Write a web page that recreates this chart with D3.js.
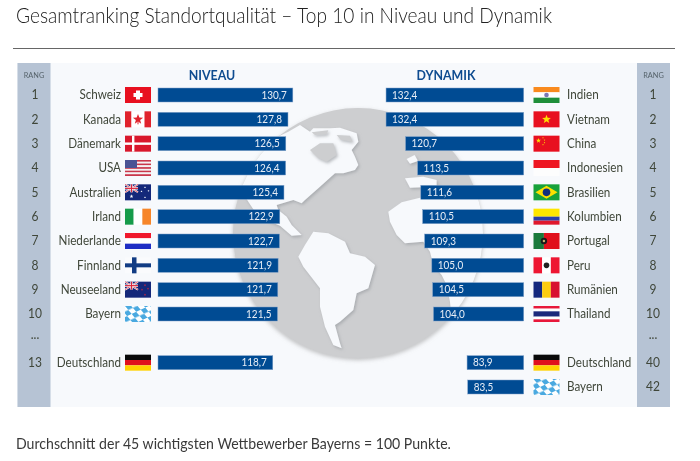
<!DOCTYPE html>
<html>
<head>
<meta charset="utf-8">
<script src="https://cdn.jsdelivr.net/npm/d3@7"></script>
<style>
  html, body { margin: 0; background: #fff; }
  svg { display: block; filter: blur(0.3px); }
  text { font-family: Lato, "Open Sans", sans-serif; }
</style>
</head>
<body>
<script>
var levelCountries = ["Schweiz", "Kanada", "Dänemark", "USA", "Australien", "Irland", "Niederlande", "Finnland", "Neuseeland", "Bayern", "Deutschland"];
var levelValues = [130.7, 127.8, 126.5, 126.4, 125.4, 122.9, 122.7, 121.9, 121.7, 121.5, 118.7];
var levelRows = [0, 1, 2, 3, 4, 5, 6, 7, 8, 9, 11];
var levelRanks = ["1", "2", "3", "4", "5", "6", "7", "8", "9", "10", "...", "13"];

var dynamicCountries = ["Indien", "Vietnam", "China", "Indonesien", "Brasilien", "Kolumbien", "Portugal", "Peru", "Rumänien", "Thailand", "Deutschland", "Bayern"];
var dynamicValues = [132.4, 132.4, 120.7, 113.5, 111.6, 110.5, 109.3, 105.0, 104.5, 104.0, 83.9, 83.5];
var dynamicRows = [0, 1, 2, 3, 4, 5, 6, 7, 8, 9, 11, 12];
var dynamicRanks = ["1", "2", "3", "4", "5", "6", "7", "8", "9", "10", "...", "40", "42"];

var titleText = "Gesamtranking Standortqualität – Top 10 in Niveau und Dynamik";
var footerText = "Durchschnitt der 45 wichtigsten Wettbewerber Bayerns = 100 Punkte.";

var svg = d3.select("body").append("svg").attr("width", 700).attr("height", 461);
var defs = svg.append("defs");

var barColor = "#004b93", textColor = "#3f4639", panelColor = "#f7f9fc", rangColor = "#b6c3d4";

var y = d3.scalePoint().domain(d3.range(13)).range([95, 387]);
// both bar scales start at 50, not at zero
var levelX = d3.scaleLinear().domain([50, 135]).range([158, 300]);
var dynamicX = d3.scaleLinear().domain([50, 135]).range([523.7, 381.7]);
var de = d3.formatLocale({ decimal: ",", thousands: ".", grouping: [3], currency: ["", "€"] }).format(".1f");

// title, rule, footer
var title = svg.append("text").attr("x", 16).attr("y", 23).attr("font-size", 21).attr("font-weight", 300).attr("fill", "#222").text(titleText);
svg.append("line").attr("x1", 13).attr("x2", 675).attr("y1", 48.5).attr("y2", 48.5).attr("stroke", "#666").attr("stroke-width", 1);
svg.append("text").attr("x", 16).attr("y", 449).attr("font-size", 15).attr("fill", "#3a3a3a").text(footerText);

// panel
svg.append("rect").attr("x", 17).attr("y", 63).attr("width", 653).attr("height", 344).attr("fill", panelColor);
svg.selectAll("rect.rang").data([17.5, 637]).join("rect").attr("class", "rang")
  .attr("x", function(d){ return d; }).attr("y", 63).attr("width", 33).attr("height", 344).attr("fill", rangColor);

// globe, traced by hand (coordinates are 3x, offset to 220,95)
var shadow = defs.append("filter").attr("id", "soft").attr("x", "-20%").attr("y", "-20%").attr("width", "140%").attr("height", "140%");
shadow.append("feDropShadow").attr("dx", 4).attr("dy", 5).attr("stdDeviation", 5).attr("flood-color", "#9a9ea3").attr("flood-opacity", 0.7);
var discShadow = defs.append("filter").attr("id", "discsoft").attr("x", "-10%").attr("y", "-10%").attr("width", "120%").attr("height", "120%");
discShadow.append("feDropShadow").attr("dx", 0).attr("dy", 6).attr("stdDeviation", 6).attr("flood-color", "#999").attr("flood-opacity", 0.6);
defs.append("clipPath").attr("id", "disc").append("circle").attr("cx", 414).attr("cy", 414).attr("r", 375);

var land = [
  [[205,110],[240,90],[270,110],[280,100],[330,100],[360,98],[410,115],[415,140],[395,165],[405,185],[415,210],[405,225],[370,235],[345,235],[300,275],[255,315],[245,325],[220,315],[170,330],[175,345],[200,365],[215,390],[245,420],[215,422],[180,392],[115,365],[85,320],[60,280],[100,160]],
  [[280,410],[325,415],[375,440],[390,475],[435,485],[465,510],[445,580],[410,595],[400,645],[360,680],[345,690],[360,745],[365,760],[340,750],[315,695],[300,635],[300,580],[250,515],[235,485],[255,450]],
  [[505,350],[545,322],[600,308],[700,302],[860,300],[860,720],[700,720],[690,620],[680,570],[665,540],[640,510],[630,470],[610,440],[555,445],[530,420],[510,380]],
  [[555,250],[610,245],[650,255],[650,275],[570,278]],
  [[560,192],[584,180],[594,198],[570,206]]
];
var seas = [
  [[270,165],[300,145],[340,145],[350,180],[320,200],[295,190]],
  [[275,112],[325,106],[320,118],[285,120]],
  [[350,120],[390,122],[398,140],[362,134]]
];
var outline = d3.line().curve(d3.curveLinearClosed);
var globe = svg.append("g").attr("transform", "translate(220,95) scale(0.3333)");
globe.append("circle").attr("cx", 414).attr("cy", 414).attr("r", 375).attr("fill", "#cdced0").attr("filter", "url(#discsoft)");
var landG = globe.append("g").attr("clip-path", "url(#disc)").append("g").attr("filter", "url(#soft)");
landG.selectAll("path.land").data(land).join("path").attr("class", "land").attr("d", outline).attr("fill", panelColor);
globe.append("g").attr("clip-path", "url(#disc)").append("g").attr("filter", "url(#soft)")
  .selectAll("path.sea").data(seas).join("path").attr("class", "sea").attr("d", outline).attr("fill", "#cdced0");

// headers
svg.selectAll("text.rangHead").data([34, 653.5]).join("text").attr("class", "rangHead")
  .attr("x", function(d){ return d; }).attr("y", 75.5).attr("text-anchor", "middle").attr("dy", "0.35em")
  .attr("font-size", 7.8).attr("fill", "#55626a").text("RANG");
svg.append("text").attr("x", 212).attr("y", 75.5).attr("dy", "0.35em").attr("text-anchor", "middle").attr("font-size", 13.2).attr("font-weight", 700).attr("fill", "#0f4c90").text("NIVEAU");
svg.append("text").attr("x", 446).attr("y", 75.5).attr("dy", "0.35em").attr("text-anchor", "middle").attr("font-size", 13.2).attr("font-weight", 700).attr("fill", "#0f4c90").text("DYNAMIK");

// ranks
svg.selectAll("text.rankL").data(levelRanks).join("text").attr("class", "rankL")
  .attr("x", 35).attr("y", function(d, i){ return y(i) + (d === "..." ? -4 : 0); }).attr("dy", "0.35em")
  .attr("text-anchor", "middle").attr("font-size", 12.8).attr("fill", textColor).text(function(d){ return d; });
svg.selectAll("text.rankR").data(dynamicRanks).join("text").attr("class", "rankR")
  .attr("x", 653).attr("y", function(d, i){ return y(i) + (d === "..." ? -4 : 0); }).attr("dy", "0.35em")
  .attr("text-anchor", "middle").attr("font-size", 12.8).attr("fill", textColor).text(function(d){ return d; });

// bars and values
svg.selectAll("rect.levelBar").data(levelValues).join("rect").attr("class", "levelBar")
  .attr("x", levelX(50)).attr("y", function(d, i){ return y(levelRows[i]) - 7; })
  .attr("width", function(d){ return levelX(d) - levelX(50); }).attr("height", 14)
  .attr("fill", barColor).attr("stroke", "#7f9fc8").attr("stroke-width", 0.5);
svg.selectAll("text.levelVal").data(levelValues).join("text").attr("class", "levelVal")
  .attr("x", function(d){ return levelX(d) - 6; }).attr("y", function(d, i){ return y(levelRows[i]); }).attr("dy", "0.35em")
  .attr("text-anchor", "end").attr("font-size", 10.6).attr("fill", "#e8eef6").text(function(d){ return de(d); });

svg.selectAll("rect.dynBar").data(dynamicValues).join("rect").attr("class", "dynBar")
  .attr("x", function(d){ return dynamicX(d); }).attr("y", function(d, i){ return y(dynamicRows[i]) - 7; })
  .attr("width", function(d){ return dynamicX(50) - dynamicX(d); }).attr("height", 14)
  .attr("fill", barColor).attr("stroke", "#7f9fc8").attr("stroke-width", 0.5);
svg.selectAll("text.dynVal").data(dynamicValues).join("text").attr("class", "dynVal")
  .attr("x", function(d){ return dynamicX(d) + 6; }).attr("y", function(d, i){ return y(dynamicRows[i]); }).attr("dy", "0.35em")
  .attr("font-size", 10.6).attr("fill", "#e8eef6").text(function(d){ return de(d); });

// country names
svg.selectAll("text.levelName").data(levelCountries).join("text").attr("class", "levelName")
  .attr("x", 121).attr("y", function(d, i){ return y(levelRows[i]); }).attr("dy", "0.35em")
  .attr("text-anchor", "end").attr("font-size", 12.4).attr("fill", textColor).text(function(d){ return d; });
svg.selectAll("text.dynName").data(dynamicCountries).join("text").attr("class", "dynName")
  .attr("x", 567).attr("y", function(d, i){ return y(dynamicRows[i]); }).attr("dy", "0.35em")
  .attr("font-size", 12.4).attr("fill", textColor).text(function(d){ return d; });

// Lato runs wider than the original font, squeeze every label a little
svg.selectAll("text").each(function(){
  var t = d3.select(this);
  t.attr("textLength", this.getComputedTextLength() * 0.94).attr("lengthAdjust", "spacingAndGlyphs");
});
title.attr("textLength", 536);

// flags, all drawn in a 26x16 box
var W = 26, H = 16;
function box(g, x, yy, w, h, c){ g.append("rect").attr("x", x).attr("y", yy).attr("width", w).attr("height", h).attr("fill", c); }
function hStripes(g, cols, weights){
  var total = d3.sum(weights), t = 0;
  cols.forEach(function(c, i){ var h = weights[i] / total * H; box(g, 0, t, W, h, c); t += h; });
}
function vStripes(g, cols, weights){
  var total = d3.sum(weights), t = 0;
  cols.forEach(function(c, i){ var w = weights[i] / total * W; box(g, t, 0, w, H, c); t += w; });
}
function star(g, cx, cy, r, c){
  var pts = d3.range(10).map(function(i){
    var a = -Math.PI / 2 + i * Math.PI / 5, rr = i % 2 ? r * 0.42 : r;
    return [cx + rr * Math.cos(a), cy + rr * Math.sin(a)];
  });
  g.append("polygon").attr("points", pts.join(" ")).attr("fill", c);
}
function jack(g){
  box(g, 0, 0, W, H, "#14287a");
  var j = g.append("g");
  [[0,0,13,8],[13,0,0,8]].forEach(function(l){
    j.append("line").attr("x1", l[0]).attr("y1", l[1]).attr("x2", l[2]).attr("y2", l[3]).attr("stroke", "#fff").attr("stroke-width", 1.8);
    j.append("line").attr("x1", l[0]).attr("y1", l[1]).attr("x2", l[2]).attr("y2", l[3]).attr("stroke", "#d9263a").attr("stroke-width", 0.7);
  });
  box(g, 5.3, 0, 2.4, 8, "#fff"); box(g, 0, 2.8, 13, 2.4, "#fff");
  box(g, 5.9, 0, 1.2, 8, "#d9263a"); box(g, 0, 3.4, 13, 1.2, "#d9263a");
}
var bav = defs.append("pattern").attr("id", "bavaria").attr("patternUnits", "userSpaceOnUse").attr("width", 10).attr("height", 10).attr("patternTransform", "rotate(-25) skewX(15)");
bav.append("rect").attr("width", 10).attr("height", 10).attr("fill", "#fff");
bav.append("rect").attr("width", 5).attr("height", 5).attr("fill", "#4aa9e0");
bav.append("rect").attr("x", 5).attr("y", 5).attr("width", 5).attr("height", 5).attr("fill", "#4aa9e0");

var flagDraw = {
  "Schweiz": function(g){ box(g,0,0,W,H,"#e8101f"); box(g,11,3.5,4,9,"#fff"); box(g,8.5,6,9,4,"#fff"); },
  "Kanada": function(g){ vStripes(g,["#e0222c","#fff","#e0222c"],[1,2,1]); star(g,13,8,5.4,"#e0222c"); box(g,12.5,10,1,3,"#e0222c"); },
  "Dänemark": function(g){ box(g,0,0,W,H,"#d9182c"); box(g,7,0,2.4,H,"#fff"); box(g,0,6.8,W,2.4,"#fff"); },
  "USA": function(g){
    hStripes(g,["#c9364a","#f4f0f2","#c9364a","#f4f0f2","#c9364a","#f4f0f2","#c9364a","#f4f0f2","#c9364a"],[1,1,1,1,1,1,1,1,1]);
    box(g,0,0,12,8,"#4a5394");
  },
  "Australien": function(g){ jack(g); star(g,6.5,12,2,"#fff"); star(g,20,3,1.2,"#fff"); star(g,20,13,1.2,"#fff"); star(g,16.5,7,1.1,"#fff"); star(g,23.5,6.5,1.1,"#fff"); },
  "Irland": function(g){ vStripes(g,["#169b4a","#fff","#f7862a"],[1,1,1]); },
  "Niederlande": function(g){ hStripes(g,["#f0182c","#fff","#1f2ec4"],[1,1,1]); },
  "Finnland": function(g){ box(g,0,0,W,H,"#fafbfd"); box(g,7,0,4.5,H,"#123c84"); box(g,0,6,W,4,"#123c84"); },
  "Neuseeland": function(g){ jack(g); star(g,20,3.5,1.2,"#d9263a"); star(g,20,13,1.2,"#d9263a"); star(g,17,8,1.1,"#d9263a"); star(g,23,7,1.1,"#d9263a"); },
  "Bayern": function(g){ box(g,0,0,W,H,"url(#bavaria)"); },
  "Deutschland": function(g){ hStripes(g,["#0a0a0a","#e0101c","#ffd200"],[1,1,1]); },
  "Indien": function(g){ hStripes(g,["#f98a1e","#fff","#1f8f3a"],[1,1,1]); g.append("circle").attr("cx",13).attr("cy",8).attr("r",2.3).attr("fill","#7a78b4"); },
  "Vietnam": function(g){ box(g,0,0,W,H,"#e8101f"); star(g,13,8,4.6,"#ffe000"); },
  "China": function(g){ box(g,0,0,W,H,"#e8101f"); star(g,5,5,2.6,"#ffde00"); star(g,9.5,2.2,0.9,"#ffde00"); star(g,11,4.4,0.9,"#ffde00"); star(g,11,7,0.9,"#ffde00"); star(g,9.5,9,0.9,"#ffde00"); },
  "Indonesien": function(g){ hStripes(g,["#ee1622","#fdfdfd"],[1,1]); },
  "Brasilien": function(g){
    box(g,0,0,W,H,"#18a23a");
    g.append("polygon").attr("points","13,1.5 24,8 13,14.5 2,8").attr("fill","#fde000");
    g.append("circle").attr("cx",13).attr("cy",8).attr("r",3.8).attr("fill","#12307e");
  },
  "Kolumbien": function(g){ hStripes(g,["#ffe600","#2b3fa8","#e0182c"],[2,1,1]); },
  "Portugal": function(g){
    vStripes(g,["#1a7a3c","#e0101c"],[2,3]);
    g.append("circle").attr("cx",10.4).attr("cy",8).attr("r",3.2).attr("fill","#1a1a1a");
    g.append("circle").attr("cx",10.4).attr("cy",8).attr("r",1.2).attr("fill","#c9b070");
  },
  "Peru": function(g){ vStripes(g,["#ee1632","#fff","#ee1632"],[1,1,1]); g.append("circle").attr("cx",13).attr("cy",8).attr("r",2.8).attr("fill","#222"); },
  "Rumänien": function(g){ vStripes(g,["#14287e","#fccc10","#d81030"],[1,1,1]); },
  "Thailand": function(g){ hStripes(g,["#e8183a","#fff","#1c2a7c","#fff","#e8183a"],[1,1,2,1,1]); }
};

svg.selectAll("g.levelFlag").data(levelCountries).join("g").attr("class", "levelFlag")
  .attr("transform", function(d, i){ return "translate(125," + (y(levelRows[i]) - H / 2) + ")"; })
  .each(function(d){ flagDraw[d](d3.select(this)); });
svg.selectAll("g.dynFlag").data(dynamicCountries).join("g").attr("class", "dynFlag")
  .attr("transform", function(d, i){ return "translate(533.5," + (y(dynamicRows[i]) - H / 2) + ")"; })
  .each(function(d){ flagDraw[d](d3.select(this)); });
</script>
</body>
</html>
